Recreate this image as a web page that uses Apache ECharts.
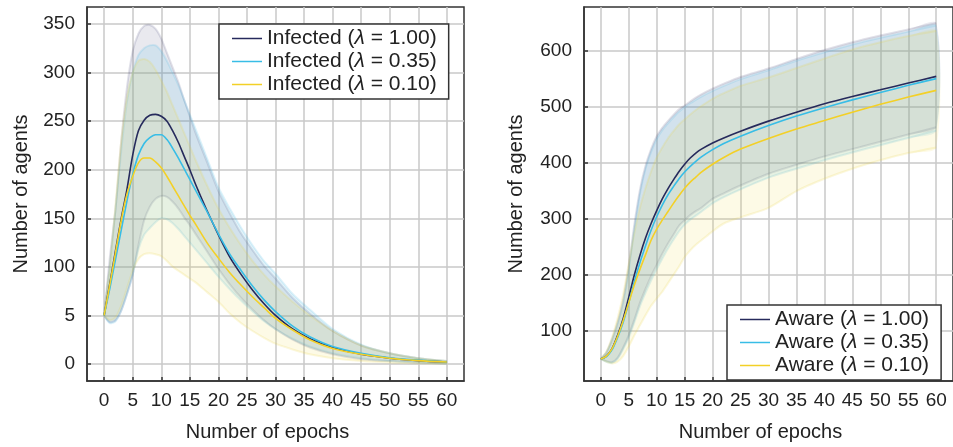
<!DOCTYPE html>
<html><head><meta charset="utf-8">
<script src="https://cdn.jsdelivr.net/npm/echarts@6/dist/echarts.min.js"></script>
<style>html,body{margin:0;padding:0;background:#fff}#c{width:953px;height:447px}</style>
</head><body><div id="c"></div>
<script>
// ---------- DATA ----------
var epochsL = [0,1,2,3,4,5,6,7,8,9,10,11,12,13,14,15,16,18,20,22,24,26,28,30,33,36,40,45,50,55,60];
var infMean100 = [50,83,117,150,180,215,240,251,256,257,255,250,240,228,214,200,185,158,133,110,92,76,62,50,36,26,17,10,6,3.5,2];
var infMean035 = [50,78,108,138,168,195,215,227,233,236,236,231,222,212,201,190,179,157,134,113,96,80,66,54,39,28,18,11,6.5,4,2];
var infMean010 = [50,82,115,148,175,193,207,212,212,208,202,193,183,173,163,153,144,125,109,94,81,69,58,47,35,25,16,10,6,3.5,2];
var infLo100 = [50,43,45,55,72,92,122,148,162,170,173,172,167,160,151,143,134,116,98,82,68,56,45,36,25,17,10,5,3,1.5,0.5];
var infLo035 = [50,42,44,55,72,92,118,133,140,146,150,149,145,139,132,125,118,104,90,77,65,54,44,36,26,18,11,6,3,1.5,0.5];
var infLo010 = [50,45,48,60,78,96,108,113,114,113,111,106,100,96,92,88,84,74,64,52,42,34,27,21,15,10,6,3,1.5,0.8,0.3];
var infHi100 = [50,110,160,230,285,322,340,348,349,345,335,320,305,290,272,255,238,208,178,155,134,117,101,88,68,52,34,19,11,6,3];
var infHi035 = [50,100,160,220,270,300,318,325,328,328,322,312,300,287,272,257,242,212,182,160,140,122,106,93,72,56,36,20,11,6,3];
var infHi010 = [50,100,165,230,275,300,312,314,311,303,292,280,266,252,238,224,210,184,160,140,122,106,92,80,64,50,34,19,11,6,3];

var epochsR = [0,1,2,3,4,5,6,7,8,9,10,11,12,13,14,15,16,17,18,20,22,25,30,35,40,45,50,55,60];
var awMean100 = [50,55,68,92,122,160,200,235,266,292,315,336,354,370,385,398,409,418,425,436,445,457,475,491,506,519,531,543,555];
var awMean035 = [50,54,66,88,115,150,188,222,252,280,304,325,343,358,372,384,394,403,411,424,435,448,467,484,499,513,526,539,551];
var awMean010 = [50,55,68,90,118,150,182,210,236,262,282,298,313,328,342,355,366,375,384,398,410,425,444,461,476,491,505,518,530];
var awLo100 = [50,46,44,52,70,92,120,150,175,198,218,238,256,272,288,298,307,314,320,336,346,360,381,397,412,425,438,451,464];
var awLo035 = [50,45,43,50,67,88,115,144,168,190,210,229,247,263,278,290,299,306,313,328,339,353,374,390,405,419,432,445,458];
var awLo010 = [50,45,42,45,55,72,92,110,128,145,158,170,185,200,215,232,244,254,262,278,292,303,320,350,372,390,405,418,428];
var awHi100 = [50,62,85,115,155,215,290,352,395,425,448,463,475,486,496,503,510,517,523,533,542,554,569,586,602,616,628,639,650];
var awHi035 = [50,61,83,112,150,208,282,345,390,420,443,459,471,482,492,500,507,513,519,529,538,550,566,583,598,612,624,635,646];
var awHi010 = [50,63,88,122,165,220,275,320,355,385,410,428,444,457,469,478,487,495,502,515,525,538,553,570,587,603,616,627,636];

var xTicks = [0,5,10,15,20,25,30,35,40,45,50,55,60];
var leftYTicks = [0,50,100,150,200,250,300,350];
var leftYLabels = ['0','5','100','150','200','250','300','350'];
var rightYTicks = [100,200,300,400,500,600];

var infNames = ['Infected (λ = 1.00)','Infected (λ = 0.35)','Infected (λ = 0.10)'];
var awNames = ['Aware (λ = 1.00)','Aware (λ = 0.35)','Aware (λ = 0.10)'];

// ---------- STYLE ----------
var FF = '"Liberation Sans", Arial, Helvetica, sans-serif';
var C = ['#262a5c', '#38bde6', '#f3d027'];
var BAND = ['rgba(70,70,120,0.12)', 'rgba(70,185,225,0.14)', 'rgba(240,215,60,0.13)'];
var EDGE = ['rgba(70,70,120,0.16)', 'rgba(70,185,225,0.18)', 'rgba(235,210,60,0.18)'];

function pairs(xs, ys) { return xs.map(function (x, i) { return [x, ys[i]]; }); }

function band(xs, lo, hi, k, gi, key) {
  return {
    type: 'custom', name: key, xAxisIndex: gi, yAxisIndex: gi, silent: true, z: 1,
    data: xs.map(function (x, i) { return [x, lo[i], hi[i]]; }),
    encode: { x: 0, y: [1, 2] },
    renderItem: function (params, api) {
      if (params.dataIndex !== 0) return null;
      var n = xs.length, up = [], dn = [], j;
      for (j = 0; j < n; j++) up.push(api.coord([api.value(0, j), api.value(2, j)]));
      for (j = n - 1; j >= 1; j--) dn.push(api.coord([api.value(0, j), api.value(1, j)]));
      return {
        type: 'group',
        children: [
          { type: 'polygon', shape: { points: up.concat(dn), smooth: 0.25 },
            style: { fill: BAND[k], stroke: null } },
          { type: 'polyline', shape: { points: up, smooth: 0.25 },
            style: { fill: null, stroke: EDGE[k], lineWidth: 2 } },
          { type: 'polyline', shape: { points: [up[0]].concat(dn.slice().reverse()), smooth: 0.25 },
            style: { fill: null, stroke: EDGE[k], lineWidth: 2 } }
        ]
      };
    }
  };
}
function meanLine(xs, ys, k, gi, name) {
  return { type: 'line', name: name, xAxisIndex: gi, yAxisIndex: gi, smooth: 0.3, symbol: 'none',
    data: pairs(xs, ys), color: C[k], lineStyle: { color: C[k], width: 1.6 }, z: 5 };
}

function xAxis(gi) {
  return {
    type: 'value', gridIndex: gi, min: -3, max: 63,
    axisLine: { show: true, onZero: false, lineStyle: { color: '#333', width: 1.5 } },
    axisTick: { show: true, inside: true, length: 4, customValues: xTicks, lineStyle: { color: '#333', width: 1.5 } },
    axisLabel: { customValues: xTicks, margin: 10, fontSize: 19, color: '#222', fontFamily: FF },
    splitLine: { show: true, lineStyle: { color: '#c8c8c8', width: 1.5 } },
    name: 'Number of epochs', nameLocation: 'middle', nameGap: 41,
    nameTextStyle: { fontSize: 20, color: '#222', fontFamily: FF, padding: [0, 16, 0, 0] }
  };
}
function yAxis(gi, min, max, ticks, labels, gap) {
  return {
    type: 'value', gridIndex: gi, min: min, max: max,
    axisLine: { show: true, onZero: false, lineStyle: { color: '#333', width: 1.5 } },
    axisTick: { show: true, inside: true, length: 4, customValues: ticks, lineStyle: { color: '#333', width: 1.5 } },
    axisLabel: { customValues: ticks, margin: 12, fontSize: 19, color: '#222', fontFamily: FF,
      formatter: function (v) { var i = ticks.indexOf(v); return labels ? labels[i] : String(v); } },
    splitLine: { show: true, lineStyle: { color: '#c8c8c8', width: 1.5 } },
    name: 'Number of agents', nameLocation: 'middle', nameGap: gap, nameRotate: 90,
    nameTextStyle: { fontSize: 20, color: '#222', fontFamily: FF }
  };
}
function legend(names, left, top) {
  return {
    data: names, left: left, top: top, orient: 'vertical',
    icon: 'rect', itemWidth: 30, itemHeight: 1.5, itemGap: 0,
    padding: [3, 12, 3, 13], borderColor: '#333', borderWidth: 1.5, backgroundColor: '#fff',
    formatter: function (n) { return n.replace('λ', '{i|λ}'); },
    textStyle: { fontSize: 21, lineHeight: 23, color: '#222', fontFamily: FF,
      rich: { i: { fontStyle: 'italic', fontSize: 21, lineHeight: 23, color: '#222', fontFamily: FF } } }
  };
}

var series = [];
series.push(band(epochsL, infLo100, infHi100, 0, 0, 'i0'));
series.push(band(epochsL, infLo035, infHi035, 1, 0, 'i1'));
series.push(band(epochsL, infLo010, infHi010, 2, 0, 'i2'));
series.push(band(epochsR, awLo100, awHi100, 0, 1, 'a0'));
series.push(band(epochsR, awLo035, awHi035, 1, 1, 'a1'));
series.push(band(epochsR, awLo010, awHi010, 2, 1, 'a2'));
series.push(meanLine(epochsL, infMean100, 0, 0, infNames[0]));
series.push(meanLine(epochsL, infMean035, 1, 0, infNames[1]));
series.push(meanLine(epochsL, infMean010, 2, 0, infNames[2]));
series.push(meanLine(epochsR, awMean100, 0, 1, awNames[0]));
series.push(meanLine(epochsR, awMean035, 1, 1, awNames[1]));
series.push(meanLine(epochsR, awMean010, 2, 1, awNames[2]));

var chart = echarts.init(document.getElementById('c'), null, { renderer: 'canvas' });
chart.setOption({
  animation: false,
  backgroundColor: '#fff',
  grid: [
    { left: 87, top: 7, width: 377, height: 382, show: true, borderColor: '#333', borderWidth: 1.5, containLabel: false },
    { left: 584, top: 7, width: 377, height: 383, show: true, borderColor: '#333', borderWidth: 1.5, containLabel: false }
  ],
  xAxis: [xAxis(0), xAxis(1)],
  yAxis: [yAxis(0, -17.5, 367.5, leftYTicks, leftYLabels, 56), yAxis(1, 10.5, 679, rightYTicks, null, 58)],
  legend: [legend(infNames, 219, 24), legend(awNames, 727, 305)],
  series: series
});
</script></body></html>
